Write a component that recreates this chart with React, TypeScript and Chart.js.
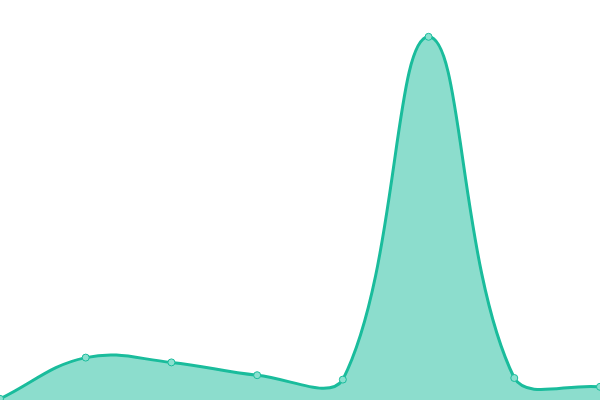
import { useEffect, useRef } from "react";
import { Chart, registerables, type ChartConfiguration } from "chart.js";

Chart.register(...registerables);

const labels = ["1", "2", "3", "4", "5", "6", "7", "8"];
const values = [0.3, 10.6, 9.4, 6.2, 5.1, 90.8, 5.5, 3.3];

export default function App() {
  const canvasRef = useRef<HTMLCanvasElement>(null);

  useEffect(() => {
    document.body.style.margin = "0";
    if (!canvasRef.current) return;
    const cfg: ChartConfiguration<"line", number[], string> = {
      type: "line",
      data: {
        labels,
        datasets: [
          {
            data: values,
            borderColor: "#1abc9c",
            backgroundColor: "rgba(26,188,156,0.5)",
            pointBackgroundColor: "#8ae0cf",
            pointBorderColor: "#1abc9c",
            pointRadius: 3.5,
            pointBorderWidth: 1,
            borderWidth: 3,
            fill: true,
            tension: 0.4,
          },
        ],
      },
      options: {
        animation: false,
        responsive: true,
        maintainAspectRatio: false,
        layout: { padding: 0, autoPadding: false },
        plugins: { legend: { display: false }, tooltip: { enabled: false } },
        scales: {
          x: { display: false },
          y: { display: false, min: 0, max: 100 },
        },
      },
    };
    const chart = new Chart(canvasRef.current, cfg);
    return () => chart.destroy();
  }, []);

  return (
    <div style={{ position: "relative", width: 600, height: 400 }}>
      <canvas ref={canvasRef} />
    </div>
  );
}
